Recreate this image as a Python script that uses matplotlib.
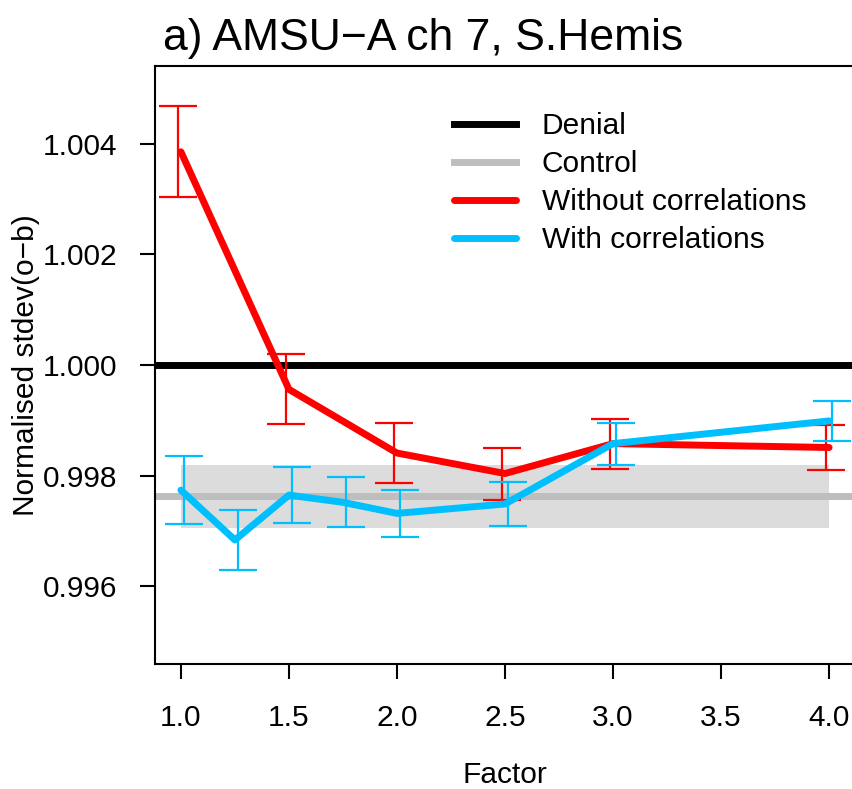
import matplotlib
matplotlib.use('Agg')
import matplotlib.pyplot as plt
import numpy as np

plt.rcParams['font.family'] = ['Liberation Sans', 'DejaVu Sans']

TITLE = 'a) AMSU\u2212A ch 7, S.Hemis'

# normalised stdev(o-b) relative to the denial run
denial = 1.0
control = 0.99763
control_spread = 0.00057

factor_nocorr = [1.0, 1.5, 2.0, 2.5, 3.0, 4.0]
stdev_nocorr = [1.00385, 0.99956, 0.99841, 0.99804, 0.99858, 0.99851]
err_nocorr = [0.00082, 0.00063, 0.00054, 0.00047, 0.00045, 0.00041]

factor_corr = [1.0, 1.25, 1.5, 1.75, 2.0, 2.5, 3.0, 4.0]
stdev_corr = [0.99774, 0.99684, 0.99765, 0.99752, 0.99732, 0.99749, 0.99858, 0.99899]
err_corr = [0.00062, 0.00055, 0.00050, 0.00045, 0.00043, 0.00040, 0.00038, 0.00036]

x_ticks = [1.0, 1.5, 2.0, 2.5, 3.0, 3.5, 4.0]
y_ticks = [0.996, 0.998, 1.000, 1.002, 1.004]

RED = '#FF0000'
BLUE = '#00BFFF'
DODGE = 0.014  # small shift so the two sets of error bars don't overlap
FS = 21.5
LW = 5

fig = plt.figure(figsize=(8.52, 7.89), dpi=100)
ax = fig.add_axes([155 / 852, 125 / 789, 700 / 852, 598 / 789])

# control spread band and lines
ax.fill_between([factor_nocorr[0], factor_nocorr[-1]], control - control_spread,
                control + control_spread, color='#DCDCDC', lw=0, zorder=1)
ax.axhline(control, color='#BEBEBE', lw=LW, zorder=2, label='Control')
ax.axhline(denial, color='black', lw=LW, zorder=2, label='Denial')

ax.plot(factor_nocorr, stdev_nocorr, color=RED, lw=LW, zorder=3,
        solid_capstyle='round', solid_joinstyle='round', label='Without correlations')
ax.errorbar(np.array(factor_nocorr) - DODGE, stdev_nocorr, yerr=err_nocorr, fmt='none',
            ecolor=RED, elinewidth=1.6, capsize=14, capthick=1.6, zorder=3)

ax.plot(factor_corr, stdev_corr, color=BLUE, lw=LW, zorder=4,
        solid_capstyle='round', solid_joinstyle='round', label='With correlations')
ax.errorbar(np.array(factor_corr) + DODGE, stdev_corr, yerr=err_corr, fmt='none',
            ecolor=BLUE, elinewidth=1.6, capsize=14, capthick=1.6, zorder=4)

ax.set_xlim(0.88, 4.12)
ax.set_ylim(0.99460, 1.00540)
ax.set_xticks(x_ticks)
ax.set_xticklabels([f'{v:.1f}' for v in x_ticks])
ax.set_yticks(y_ticks)
ax.set_yticklabels([f'{v:.3f}' for v in y_ticks])
ax.tick_params(axis='both', direction='out', length=11, width=1.5, labelsize=FS)
ax.tick_params(axis='x', pad=18)
ax.tick_params(axis='y', pad=16)
for s in ax.spines.values():
    s.set_linewidth(1.5)

fig.text(505 / 852, 1 - 775 / 789, 'Factor', fontsize=FS, ha='center', va='center')
fig.text(26 / 852, 1 - 365 / 789, 'Normalised stdev(o\u2212b)', fontsize=FS,
         rotation=90, ha='center', va='center')
fig.text(163 / 852, 1 - 50 / 789, TITLE, fontsize=32, ha='left', va='baseline')

handles, labels = ax.get_legend_handles_labels()
order = ['Denial', 'Control', 'Without correlations', 'With correlations']
hmap = dict(zip(labels, handles))
ax.legend([hmap[k] for k in order], order, loc='upper left',
          bbox_to_anchor=(454 / 852, 1 - 112 / 789), bbox_transform=fig.transFigure,
          frameon=False, fontsize=FS, handlelength=2.07, handletextpad=0.87,
          labelspacing=0.34, borderpad=0, borderaxespad=0)

fig.savefig('out.png', dpi=100)
